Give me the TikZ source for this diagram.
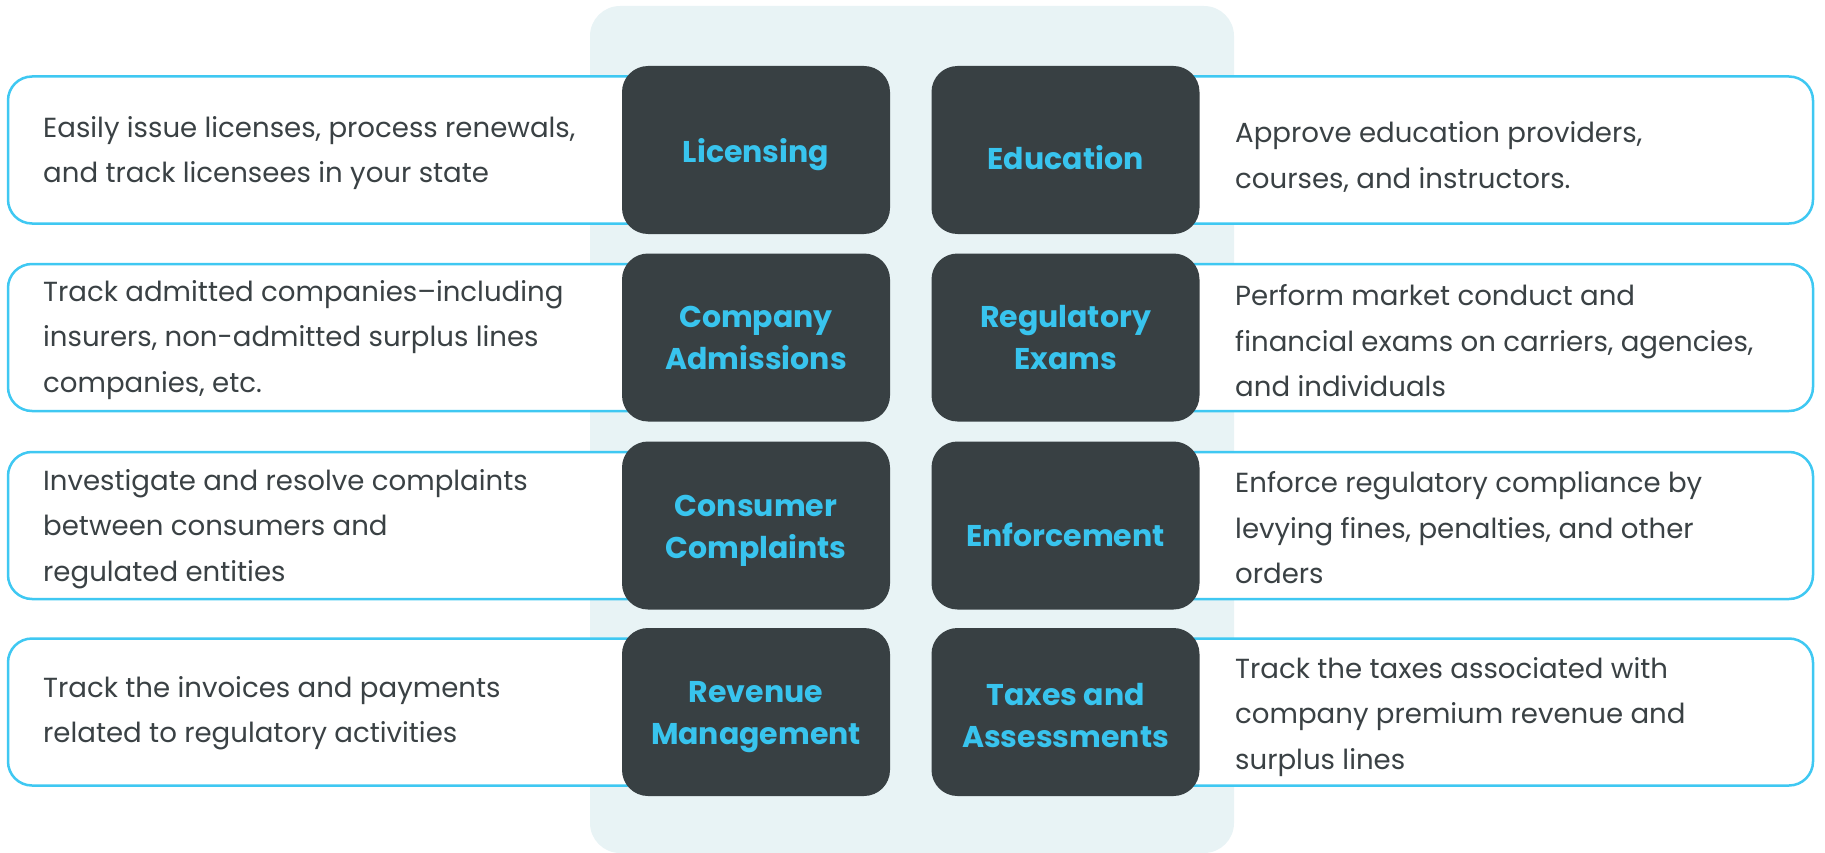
\documentclass[tikz,border=0pt]{standalone}
\usepackage{fontspec}
\setmainfont{Poppins}
\definecolor{panelc}{HTML}{E8F3F5}
\definecolor{darkc}{HTML}{384043}
\definecolor{cyanc}{HTML}{38C4EE}
\definecolor{linec}{HTML}{3FC8F2}
\definecolor{textc}{HTML}{3A4144}
\tikzset{
  descbox/.style={draw=linec, line width=2.5pt, fill=white, rounded corners=24pt, minimum height=147pt, inner sep=0pt},
  darkbox/.style={fill=darkc, rounded corners=26pt, minimum width=268pt, minimum height=168pt, inner sep=0pt},
  headtext/.style={text=cyanc, align=center, inner sep=0pt, font=\fontsize{30}{42}\selectfont\bfseries},
  desctext/.style={anchor=west, align=left, text=textc, inner sep=0pt, font=\fontsize{27.6}{45.5}\selectfont}
}
\begin{document}
\begin{tikzpicture}[x=1pt,y=-1pt]
\useasboundingbox (0,0) rectangle (1825,853);
\fill[panelc, rounded corners=30pt] (590,6) rectangle (1234,853);
% left outline boxes
\foreach \n/\y in {l1/150,l2/337.5,l3/525.5,l4/712}{
  \node[descbox, minimum width=692pt] (\n) at (354,\y) {};
}
\foreach \n/\y in {r1/150,r2/337.5,r3/525.5,r4/712}{
  \node[descbox, minimum width=700pt] (\n) at (1463,\y) {};
}
% dark boxes
\node[darkbox] (L1) at (756,150) {};
\node[darkbox] (L2) at (756,337.5) {};
\node[darkbox] (L3) at (756,525.5) {};
\node[darkbox] (L4) at (756,712) {};
\node[darkbox] (R1) at (1065.5,150) {};
\node[darkbox] (R2) at (1065.5,337.5) {};
\node[darkbox] (R3) at (1065.5,525.5) {};
\node[darkbox] (R4) at (1065.5,712) {};
% headings
\node[headtext] (hL1) at (756,155) {Licensing};
\node[headtext] (hL2) at (756,337.5) {Company\\Admissions};
\node[headtext] (hL3) at (756,531) {Consumer\\Complaints};
\node[headtext] (hL4) at (756,717) {Revenue\\Management};
\node[headtext] (hR1) at (1065.5,158) {Education};
\node[headtext] (hR2) at (1065.5,337.5) {Regulatory\\Exams};
\node[headtext] (hR3) at (1065.5,535) {Enforcement};
\node[headtext] (hR4) at (1065.5,716) {Taxes and\\Assessments};
% descriptions
\node[desctext] (tl1) at (43,153) {Easily issue licenses, process renewals,\\and track licensees in your state};
\node[desctext] (tl2) at (43,340) {Track admitted companies--including\\insurers, non-admitted surplus lines\\companies, etc.};
\node[desctext] (tl3) at (43,529) {Investigate and resolve complaints\\between consumers and\\regulated entities};
\node[desctext] (tl4) at (43,713) {Track the invoices and payments\\related to regulatory activities};
\node[desctext] (tr1) at (1235,157) {Approve education providers,\\courses, and instructors.};
\node[desctext] (tr2) at (1235,341) {Perform market conduct and\\financial exams on carriers, agencies,\\and individuals};
\node[desctext] (tr3) at (1235,528) {Enforce regulatory compliance by\\levying fines, penalties, and other\\orders};
\node[desctext] (tr4) at (1235,717) {Track the taxes associated with\\company premium revenue and\\surplus lines};
\end{tikzpicture}
\end{document}
